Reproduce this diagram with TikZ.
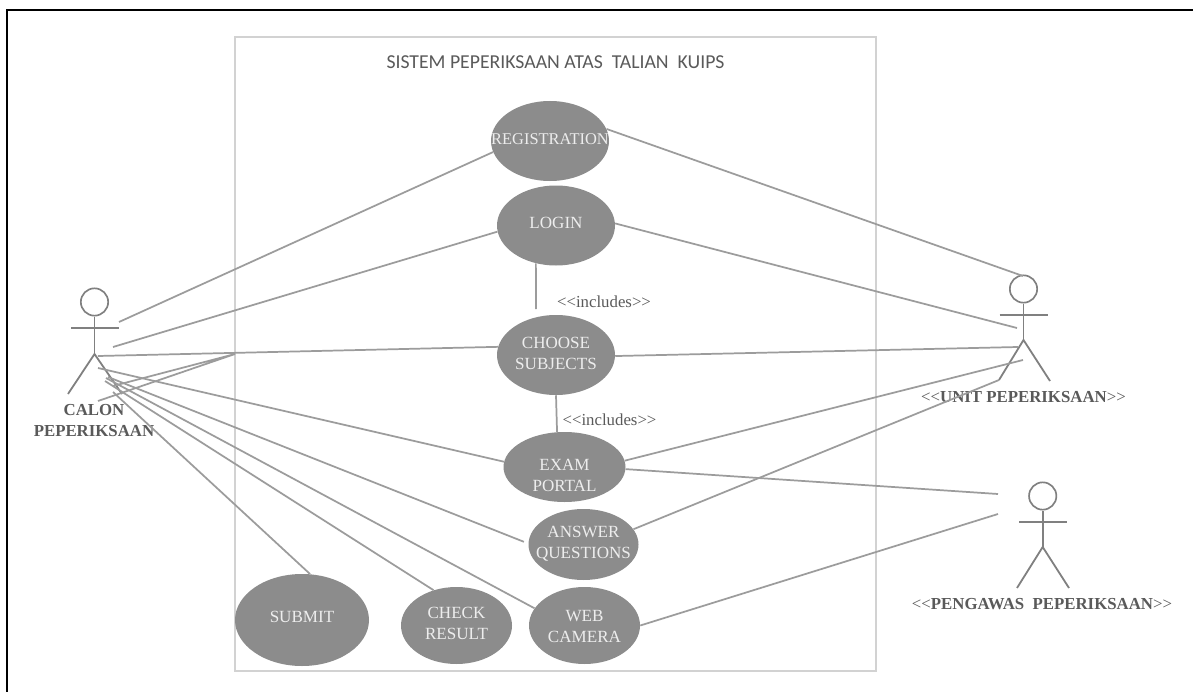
\documentclass[tikz,border=0pt]{standalone}
\usepackage{fontspec}
\setmainfont{Liberation Serif}
\newfontfamily\titlefont{Carlito}
\usetikzlibrary{shapes.geometric}
\definecolor{ucfill}{HTML}{8C8C8C}
\definecolor{linegrey}{HTML}{9C9C9C}
\definecolor{boxgrey}{HTML}{D2D2D2}
\definecolor{actorgrey}{HTML}{808080}
\definecolor{labelgrey}{HTML}{5A5A5A}
\newcommand{\dlt}{<{}<}
\newcommand{\dgt}{>{}>}
\tikzset{
  x=0.75pt,y=-0.75pt,
  uc/.style n args={4}{ellipse,draw=none,fill=ucfill,inner sep=0pt,minimum width=#1*0.75pt,minimum height=#2*0.75pt,
     label={[text=white!93!black,align=center,font=\fontsize{12.8}{15.75}\selectfont,yshift=#4*0.75pt]center:#3}},
  conn/.style={draw=linegrey,line width=1.3pt},
  limb/.style={draw=actorgrey,line width=1.35pt},
  inc/.style={text=labelgrey,font=\fontsize{12.6}{15}\selectfont,inner sep=0pt},
  act/.style={text=labelgrey,font=\fontsize{12.6}{15.5}\selectfont,inner sep=0pt,align=center},
  head/.style={circle,draw=actorgrey,line width=1.25pt,fill=white,minimum size=20.5pt,inner sep=0pt}
}
\begin{document}
\begin{tikzpicture}
\useasboundingbox (0,0) rectangle (1193,692);
\fill[white] (0,0) rectangle (1193,692);
% outer frame
\draw[black,line width=1.6pt] (7,692) -- (7,10) -- (1193,10);
% system boundary
\node[draw=boxgrey,line width=1.3pt,minimum width=480.75pt,minimum height=475.5pt,inner sep=0pt] (sys) at (555.5,354) {};
\node[text=labelgrey,font=\titlefont\fontsize{14.8}{17}\selectfont,inner sep=0pt] (title) at (555.5,62) {SISTEM PEPERIKSAAN ATAS\ \ TALIAN\ \ KUIPS};
% use cases
\node[uc={118}{80}{\fontsize{12.3}{15}\selectfont REGISTRATION}{2}] (reg) at (550,141) {};
\node[uc={118}{80}{LOGIN}{2.5}] (log) at (556,225.5) {};
\node[uc={118}{80}{CHOOSE\\SUBJECTS}{1.5}] (cho) at (556,355) {};
\node[uc={122}{70}{EXAM\\PORTAL}{-8}] (exa) at (564.5,467) {};
\node[uc={110}{71}{ANSWER\\QUESTIONS}{1}] (ans) at (583.5,544.5) {};
\node[uc={134}{92}{SUBMIT}{3}] (sub) at (302,620) {};
\node[uc={111}{77}{CHECK\\RESULT}{2}] (che) at (456.5,625.5) {};
\node[uc={111}{77}{WEB\\CAMERA}{-1}] (web) at (584.5,625.5) {};
% actor: calon
\node[head] (h1) at (94.5,302) {};
\coordinate (a1l) at (71,328); \coordinate (a1r) at (119,328);
\coordinate (a1h) at (94.5,354);
\coordinate (a1f) at (68,394); \coordinate (a1g) at (122,394);
\draw[limb] (h1) -- (a1h); \draw[limb] (a1l) -- (a1r);
\draw[limb] (a1f) -- (a1h) -- (a1g);
\node[act,font=\fontsize{12.6}{15.5}\selectfont\bfseries] (n1) at (94,420.5) {CALON\\PEPERIKSAAN};
% actor: unit
\node[head] (h2) at (1023.5,289) {};
\coordinate (a2l) at (999.5,315); \coordinate (a2r) at (1048,315);
\coordinate (a2h) at (1023.5,340);
\coordinate (a2f) at (999,380); \coordinate (a2g) at (1050,381);
\draw[limb] (h2) -- (a2h); \draw[limb] (a2l) -- (a2r);
\draw[limb] (a2f) -- (a2h) -- (a2g);
\node[act] (n2) at (1023.5,397) {\dlt\textbf{UNIT PEPERIKSAAN}\dgt};
% actor: pengawas
\node[head] (h3) at (1042.7,496) {};
\coordinate (a3l) at (1019,522); \coordinate (a3r) at (1067,522);
\coordinate (a3h) at (1042.7,547);
\coordinate (a3f) at (1017,588); \coordinate (a3g) at (1069,588);
\draw[limb] (h3) -- (a3h); \draw[limb] (a3l) -- (a3r);
\draw[limb] (a3f) -- (a3h) -- (a3g);
\node[act] (n3) at (1042,604) {\dlt\textbf{PENGAWAS\ \ PEPERIKSAAN}\dgt};
% left connector ends
\coordinate (c1) at (119,322);
\coordinate (c2) at (113,347);
\coordinate (c3) at (98,356);
\coordinate (c4) at (235,354);
\coordinate (c4a) at (113,386);
\coordinate (c4b) at (98,401);
\coordinate (c5) at (98,368);
\coordinate (c6) at (108,377);
\coordinate (c7) at (106,378);
\coordinate (c8) at (105,381);
\coordinate (c9) at (113,392);
% right connector ends
\coordinate (d1) at (1023,276);
\coordinate (d2) at (1017,328);
\coordinate (d3) at (1018,347);
\coordinate (d4) at (1023,360);
\coordinate (d5) at (998,494);
\coordinate (d6) at (998,514);
% includes
\coordinate (i1) at (536,309);
\draw[conn] (c1) -- (reg.191);
\draw[conn] (c2) -- (log.186);
\draw[conn] (c3) -- (cho.172);
\draw[conn] (c4a) -- (c4) -- (c4b);
\draw[conn] (c5) -- (exa.175);
\draw[conn,shorten >=3.5pt] (c6) -- (ans.179);
\draw[conn] (c7) -- (web.161);
\draw[conn] (c8) -- (che.123);
\draw[conn] (c9) -- (sub.80);
\draw[conn] (reg.12) -- (d1);
\draw[conn] (log.2) -- (d2);
\draw[conn] (cho.359) -- (d3);
\draw[conn] (exa.6) -- (d4);
\draw[conn] (exa.358) -- (d5);
\draw[conn] (ans.17) -- (a2f);
\draw[conn] (web.0) -- (d6);
\draw[conn] (log.242) -- (i1);
\draw[conn] (cho.270) -- (exa.102);
\node[inc] (t1) at (604,302) {\dlt includes\dgt};
\node[inc] (t2) at (609.5,420) {\dlt includes\dgt};
\end{tikzpicture}
\end{document}
